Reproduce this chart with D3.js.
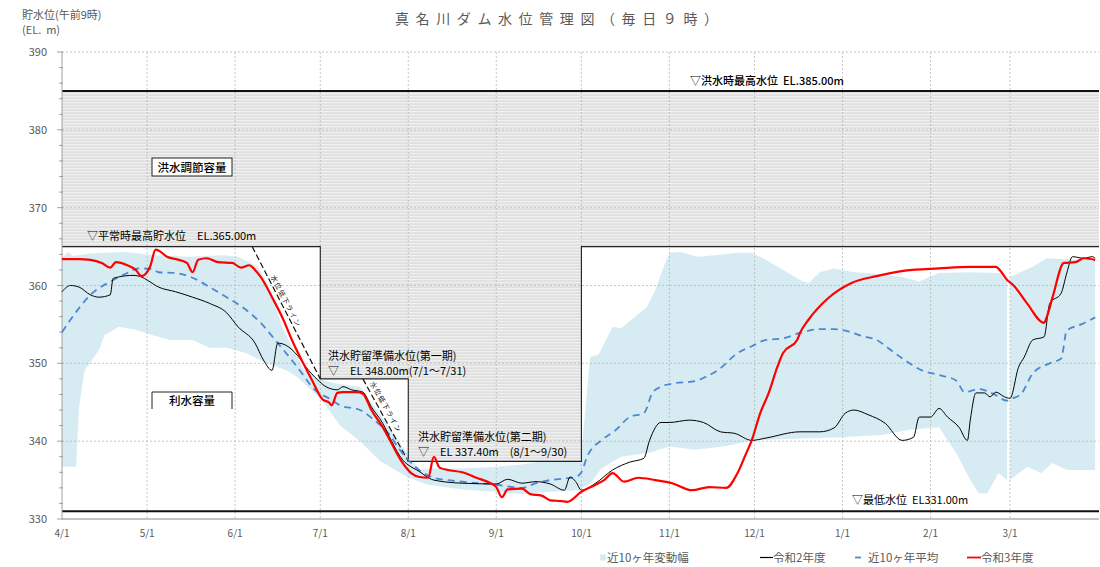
<!DOCTYPE html>
<html><head><meta charset="utf-8">
<script src="https://cdn.jsdelivr.net/npm/d3@7"></script>
<style>
body{margin:0;background:#fff}
svg{display:block}
text{font-family:"Noto Sans CJK JP","Noto Sans",sans-serif;white-space:pre}
</style>
</head><body>
<svg id="c" width="1100" height="567"></svg>
<script>
// ---------- data ----------
const monthTicks = ["4/1","5/1","6/1","7/1","8/1","9/1","10/1","11/1","12/1","1/1","2/1","3/1"];
const yTicks = [330,340,350,360,370,380,390];

// 令和3年度
const r3Dates = ["4/1","4/7","4/11","4/15","4/18","4/20","4/24","4/27","4/29","5/2","5/4","5/5","5/8","5/11","5/15","5/17","5/19","5/22","5/26","5/31","6/3","6/6","6/8","6/10","6/14","6/18","6/21","6/25","6/28","7/2","7/4","7/5","7/7","7/9","7/14","7/16","7/19","7/23","7/26","7/30","8/2","8/5","8/8","8/10","8/12","8/15","8/20","8/25","8/30","9/1","9/3","9/5","9/10","9/13","9/17","9/20","9/24","9/26","10/1","10/6","10/9","10/12","10/16","10/21","10/27","11/2","11/9","11/15","11/21","11/25","11/28","11/30","12/3","12/6","12/9","12/11","12/16","12/17","12/20","12/27","1/4","1/13","1/23","2/4","2/15","2/24","2/26","2/28","3/2","3/7","3/13","3/14","3/16","3/20","3/24","3/27","3/31"];
const r3Levels = [363.4,363.4,363.3,362.9,362.3,363.0,362.6,362.0,361.2,362.4,364.6,364.5,363.7,363.4,362.9,361.7,363.3,363.5,363.0,362.9,362.3,362.6,362.0,361.1,358.5,355.6,353.0,350.0,347.9,345.3,345.0,344.6,346.2,346.3,346.3,346.1,344.0,341.8,339.8,337.2,335.9,335.4,335.3,338.0,336.6,336.3,336.0,335.3,334.6,334.1,332.8,333.8,333.9,333.2,333.0,332.4,332.3,332.2,333.5,334.4,335.0,335.9,334.8,335.3,335.0,334.6,333.7,334.1,334.0,335.9,338.4,340.1,343.6,346.2,349.5,351.3,353.0,353.9,355.6,358.4,360.3,361.2,361.9,362.2,362.4,362.4,361.7,360.7,360.1,357.7,355.2,356.0,358.5,362.9,363.0,363.5,363.3];

// 令和2年度
const r2Dates = ["4/1","4/4","4/7","4/11","4/14","4/18","4/19","4/21","4/26","4/29","5/1","5/5","5/11","5/17","5/23","5/29","6/2","6/8","6/11","6/14","6/16","6/19","6/23","6/26","6/30","7/3","7/7","7/9","7/12","7/16","7/19","7/23","7/26","7/30","8/2","8/4","8/10","8/20","9/1","9/5","9/10","9/15","9/20","9/25","9/27","9/29","10/1","10/6","10/12","10/18","10/23","10/25","10/29","11/1","11/8","11/13","11/19","11/24","11/30","12/5","12/17","12/24","12/29","1/2","1/5","1/10","1/16","1/22","1/26","1/28","2/1","2/4","2/7","2/11","2/14","2/15","2/17","2/20","2/22","2/24","2/27","3/1","3/4","3/6","3/9","3/13","3/15","3/19","3/21","3/23","3/27","3/30","3/31"];
const r2Levels = [359.2,360.0,359.8,358.8,358.5,358.8,360.9,361.1,361.3,361.1,360.7,359.8,359.2,358.5,357.7,356.5,354.7,352.6,350.4,349.1,352.6,352.3,351.0,349.5,347.9,347.0,346.6,347.0,346.6,346.3,344.4,342.3,340.1,337.6,336.7,336.3,335.0,334.6,334.5,335.1,334.6,334.8,334.5,333.7,335.4,334.8,333.7,334.6,336.3,337.3,337.8,340.1,342.4,342.4,342.7,342.4,341.2,341.0,340.1,340.4,341.2,341.2,341.7,343.6,344.0,343.4,342.3,340.1,340.5,343.1,343.1,344.2,343.1,341.8,340.1,342.7,346.2,346.2,345.7,346.3,345.7,345.5,349.5,350.8,353.0,353.4,357.7,359.0,361.6,363.7,363.5,363.7,363.5];

// 近10ヶ年平均
const avgDates = ["4/1","4/7","4/11","4/18","4/24","4/28","5/3","5/5","5/11","5/17","5/23","5/29","6/4","6/10","6/16","6/21","6/25","6/28","7/5","7/8","7/15","7/20","7/25","7/29","8/2","8/10","8/20","9/1","9/10","9/15","9/20","9/25","9/29","10/1","10/3","10/8","10/13","10/18","10/23","10/26","10/29","11/2","11/10","11/14","11/18","11/25","11/30","12/5","12/11","12/17","12/24","12/29","1/3","1/8","1/13","1/18","1/23","1/29","2/4","2/10","2/13","2/18","2/23","2/28","3/2","3/5","3/9","3/15","3/19","3/21","3/26","3/31"];
const avgLevels = [354.0,357.1,358.8,360.5,361.6,362.2,362.1,361.7,361.6,361.0,359.8,358.5,357.1,355.2,352.6,350.4,348.5,347.0,345.3,344.6,344.0,342.7,341.0,338.9,337.2,335.3,334.8,334.4,334.0,334.6,335.0,335.2,335.4,336.0,338.0,340.1,341.4,343.1,343.6,346.2,347.0,347.4,347.7,348.3,349.1,351.3,352.2,353.0,353.2,353.9,354.4,354.4,354.1,353.5,353.0,351.7,350.4,349.1,348.5,347.8,346.3,346.7,346.1,345.2,345.5,346.1,348.7,350.0,350.6,354.2,355.0,355.9];

// 近10ヶ年変動幅 (upper / lower edge)
const bandUpperDates = ["4/1","4/3","4/5","4/11","4/23","5/4","5/16","5/28","6/2","6/6","6/9","6/12","6/15","6/18","6/25","7/1","7/8","7/15","7/22","7/29","8/5","8/10","8/20","9/1","9/10","9/20","9/30","10/1","10/3","10/4","10/7","10/12","10/15","10/24","10/27","10/30","11/1","11/5","11/11","11/17","11/25","11/30","12/5","12/11","12/17","12/20","12/24","12/29","1/5","1/10","1/22","1/28","2/4","2/15","2/25","2/28","3/1","3/9","3/14","3/24","3/31"];
const bandUpperLevels = [363.5,364.3,363.8,364.1,364.3,363.9,363.7,363.9,363.7,363.0,362.4,360.5,357.5,354.3,349.3,347.9,347.3,347.0,343.5,339.8,336.3,336.5,336.5,336.7,337.0,337.6,337.8,338.5,346.6,350.8,351.1,354.7,354.5,357.2,359.4,362.4,364.2,364.3,363.7,363.9,364.2,364.2,363.3,362.0,360.7,360.3,361.7,362.2,361.7,361.6,361.1,360.5,361.6,361.7,361.6,361.1,361.1,362.4,363.5,363.3,363.3];
const bandLowerDates = ["4/1","4/6","4/7","4/9","4/14","4/16","4/21","4/27","5/3","5/9","5/17","5/23","5/29","6/5","6/12","6/19","6/23","7/1","7/8","7/15","7/22","8/1","8/8","8/20","9/1","9/10","9/20","9/30","10/4","10/8","10/15","10/25","11/1","11/10","11/20","11/30","12/15","1/1","1/15","1/25","2/4","2/10","2/15","2/18","2/21","2/25","2/28","3/1","3/7","3/12","3/16","3/21","3/31"];
const bandLowerLevels = [336.7,336.7,344.4,349.1,351.7,353.6,354.7,354.3,353.6,353.0,353.0,352.0,352.0,351.3,350.0,349.1,348.2,345.5,342.0,340.0,337.5,335.3,334.4,333.8,333.5,333.2,333.5,333.7,334.5,336.5,338.0,338.5,339.3,338.9,339.3,340.1,340.3,340.5,340.8,341.5,341.8,338.5,335.0,333.3,333.3,335.9,335.0,335.0,336.7,335.9,337.2,336.3,336.3];
const bandBreak = "3/1"; // 10-year statistics break at leap-day

// 管理水位
const floodStepDates = ["4/1","7/1","8/1","10/1"];
const floodStepLevels = [365, 348, 337.4, 365];
const floodMaxLevel = 385;
const minLevel = 331;
const draw1Dates = ["6/7","7/1"], draw1Levels = [365,348];
const draw2Dates = ["7/16","8/1"], draw2Levels = [348,337.4];

// ---------- helpers ----------
const parse = s => { const [m,d] = s.split("/").map(Number); return new Date(m>=4?2021:2022, m-1, d); };
const endDate = new Date(2022,3,1);
const zip = (ds, vs) => ds.map((d,i)=>({date:parse(d), v:vs[i]}));

const svg = d3.select("#c");
const x = d3.scaleTime().domain([new Date(2021,3,1), endDate]).range([62,1098]);
const y = d3.scaleLinear().domain([330,390]).range([519,52]);
const X0 = x.range()[0], X1 = 1099;
const gray = "#595959";

// hatch pattern
const defs = svg.append("defs");
const pat = defs.append("pattern").attr("id","hatch").attr("patternUnits","userSpaceOnUse")
  .attr("width",6).attr("height",3);
pat.append("rect").attr("width",6).attr("height",3).attr("fill","#f0f0f0");
pat.append("rect").attr("y",1.5).attr("width",6).attr("height",1.2).attr("fill","#d9d9d9");

// ---------- band ----------
const up = zip(bandUpperDates, bandUpperLevels), lo = zip(bandLowerDates, bandLowerLevels);
const brk = parse(bandBreak);
const poly = d3.line().x(d=>x(d.date)).y(d=>y(d.v));
[[d=>d.date<brk],[d=>d.date>=brk]].forEach(([f])=>{
  const pts = up.filter(f).concat(lo.filter(f).reverse());
  svg.append("path").attr("d", poly(pts)+"Z").attr("fill","#d6ecf2");
});

// ---------- flood control region ----------
const stepPts = [];
floodStepDates.forEach((d,i)=>{
  const d0 = parse(d), d1 = i<floodStepDates.length-1 ? parse(floodStepDates[i+1]) : endDate;
  stepPts.push([x(d0), y(floodStepLevels[i])], [i<floodStepDates.length-1?x(d1):X1, y(floodStepLevels[i])]);
});
const region = [[X0,y(floodMaxLevel)],[X1,y(floodMaxLevel)]].concat(stepPts.slice().reverse());
svg.append("path").attr("d", d3.line()(region)+"Z").attr("fill","url(#hatch)");

// ---------- grid ----------
const g = svg.append("g");
yTicks.filter(v=>v>330).forEach(v=>{
  g.append("line").attr("x1",X0).attr("x2",X1).attr("y1",y(v)).attr("y2",y(v))
   .attr("stroke","#b8b8b8").attr("stroke-width",0.8).attr("stroke-dasharray","2,2");
});
monthTicks.slice(1).forEach(m=>{
  g.append("line").attr("x1",x(parse(m))).attr("x2",x(parse(m))).attr("y1",y(390)).attr("y2",y(330))
   .attr("stroke","#b8b8b8").attr("stroke-width",0.8).attr("stroke-dasharray","2,2");
});

// step boundary
svg.append("path").attr("d", d3.line()(stepPts)).attr("fill","none").attr("stroke","#222").attr("stroke-width",1.1);

// thick level lines
[floodMaxLevel, minLevel].forEach(v=>{
  svg.append("line").attr("x1",X0).attr("x2",X1).attr("y1",y(v)).attr("y2",y(v))
    .attr("stroke","#111").attr("stroke-width",2);
});

// axes
svg.append("line").attr("x1",X0).attr("x2",X1).attr("y1",y(330)).attr("y2",y(330)).attr("stroke","#b0b0b0").attr("stroke-width",1.5);
svg.append("line").attr("x1",X0).attr("x2",X0).attr("y1",y(390)).attr("y2",y(330)).attr("stroke","#a0a0a0").attr("stroke-width",1);
d3.range(330,391,2).forEach(v=>{
  svg.append("line").attr("x1",X0-(v%10===0?5:3)).attr("x2",X0+1).attr("y1",y(v)).attr("y2",y(v))
    .attr("stroke","#8c8c8c").attr("stroke-width",0.8);
});
yTicks.forEach(v=>{
  svg.append("text").attr("x",47).attr("y",y(v)+4).attr("text-anchor","end")
    .attr("font-size",11).attr("fill",gray).text(v);
});
monthTicks.forEach(m=>{
  svg.append("text").attr("x",x(parse(m))).attr("y",537).attr("text-anchor","middle")
    .attr("font-size",10).attr("fill",gray).text(m);
});

// ---------- drawdown lines ----------
function drawdown(ds, vs, labelT, off){
  const p = zip(ds, vs);
  const x0=x(p[0].date), y0=y(p[0].v), x1=x(p[1].date), y1=y(p[1].v);
  svg.append("line").attr("x1",x0).attr("y1",y0).attr("x2",x1).attr("y2",y1)
    .attr("stroke","#111").attr("stroke-width",1.2).attr("stroke-dasharray","6,3");
  const len = Math.hypot(x1-x0,y1-y0), ux=(x1-x0)/len, uy=(y1-y0)/len;
  const cx = x0+(x1-x0)*labelT + uy*off, cy = y0+(y1-y0)*labelT - ux*off;
  const ang = Math.atan2(y1-y0,x1-x0)*180/Math.PI;
  svg.append("text").attr("transform",`translate(${cx},${cy}) rotate(${ang})`)
    .attr("text-anchor","middle").attr("dy","0.35em").attr("font-size",7).attr("letter-spacing",1.2)
    .attr("fill","#111").text("水位低下ライン");
}
drawdown(draw1Dates, draw1Levels, 0.43, 5);
drawdown(draw2Dates, draw2Levels, 0.38, 6.5);

// ---------- series ----------
const line = d3.line().x(d=>x(d.date)).y(d=>y(d.v)).curve(d3.curveMonotoneX);
svg.append("path").attr("d", line(zip(avgDates,avgLevels))).attr("fill","none")
  .attr("stroke","#4f86d2").attr("stroke-width",1.8).attr("stroke-dasharray","7,5");
svg.append("path").attr("d", line(zip(r2Dates,r2Levels))).attr("fill","none")
  .attr("stroke","#000").attr("stroke-width",1);
svg.append("path").attr("d", line(zip(r3Dates,r3Levels))).attr("fill","none")
  .attr("stroke","#ff0000").attr("stroke-width",2.2);

// ---------- annotations ----------
function label(tx, xx, yy, size, weight){
  svg.append("text").attr("x",xx).attr("y",yy).attr("font-size",size).attr("font-weight",weight||400)
    .attr("fill","#000").text(tx);
}
label("▽洪水時最高水位  EL.385.00m", 690, 85, 11, 500);
label("▽平常時最高貯水位　EL.365.00m", 87, 240, 11, 400);
label("洪水貯留準備水位(第一期)", 328, 360, 11, 400);
label("▽　EL 348.00m(7/1～7/31)", 328, 375, 11, 400);
label("洪水貯留準備水位(第二期)", 418, 441, 11, 400);
label("▽　EL 337.40m　(8/1～9/30)", 418, 456, 11, 400);
label("▽最低水位  EL331.00m", 852, 504, 11, 400);

// boxes
svg.append("rect").attr("x",152).attr("y",158).attr("width",80).attr("height",18)
  .attr("fill","#fff").attr("stroke","#222").attr("stroke-width",1);
svg.append("text").attr("x",192).attr("y",171.5).attr("text-anchor","middle").attr("font-size",11.5)
  .attr("font-weight",500).text("洪水調節容量");
svg.append("rect").attr("x",152).attr("y",392).attr("width",80).attr("height",17).attr("fill","#fff");
svg.append("path").attr("d","M152,409V392H232V409").attr("fill","none").attr("stroke","#222").attr("stroke-width",1);
svg.append("text").attr("x",192).attr("y",405).attr("text-anchor","middle").attr("font-size",11.5)
  .attr("font-weight",500).text("利水容量");

// ---------- titles ----------
svg.append("text").attr("x",395).attr("y",24).attr("font-size",14).attr("letter-spacing",6.6)
  .attr("fill",gray).text("真名川ダム水位管理図（毎日９時）");
svg.append("text").attr("x",22).attr("y",19).attr("font-size",11).attr("fill",gray).text("貯水位(午前9時)");
svg.append("text").attr("x",22).attr("y",34).attr("font-size",11).attr("fill",gray).text("(EL.  m)");

// ---------- legend ----------
const ly = 557.5;
const lg = svg.append("g").attr("font-size",11.5).attr("fill",gray);
lg.append("rect").attr("x",600).attr("y",ly-3).attr("width",6).attr("height",6).attr("fill","#d6ecf2");
lg.append("text").attr("x",607).attr("y",ly+4).text("近10ヶ年変動幅");
lg.append("line").attr("x1",760).attr("x2",773).attr("y1",ly).attr("y2",ly).attr("stroke","#000").attr("stroke-width",1.2);
lg.append("text").attr("x",773).attr("y",ly+4).text("令和2年度");
lg.append("line").attr("x1",855).attr("x2",861).attr("y1",ly).attr("y2",ly).attr("stroke","#4f86d2").attr("stroke-width",1.8);
lg.append("text").attr("x",868).attr("y",ly+4).text("近10ヶ年平均");
lg.append("line").attr("x1",967).attr("x2",981).attr("y1",ly).attr("y2",ly).attr("stroke","#ff0000").attr("stroke-width",1.8);
lg.append("text").attr("x",981).attr("y",ly+4).text("令和3年度");
</script>
</body></html>
